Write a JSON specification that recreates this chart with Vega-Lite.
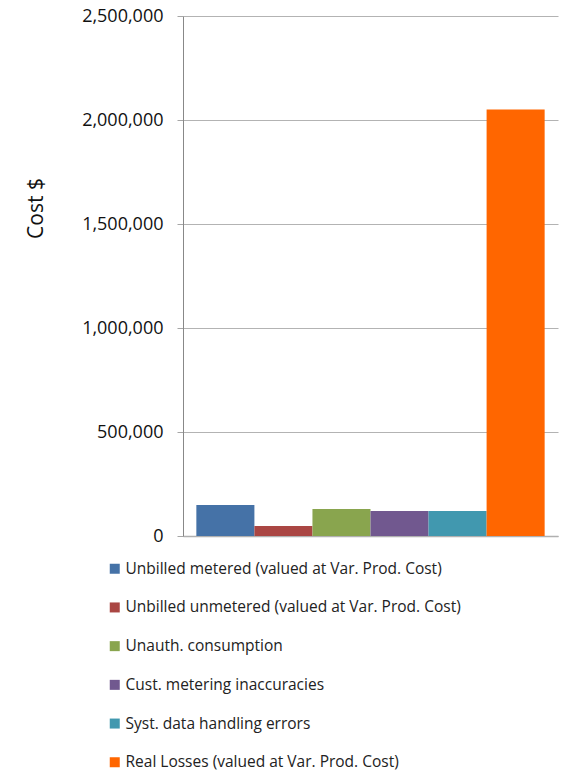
{
  "$schema": "https://vega.github.io/schema/vega-lite/v6.json",
  "autosize": {"type": "none"},
  "padding": {"left": 183, "top": 16, "right": 13, "bottom": 236},
  "width": 375,
  "height": 520,
  "background": "white",
  "data": {"values": [
    {"component": "Unbilled metered (valued at Var. Prod. Cost)", "cost": 149000},
    {"component": "Unbilled unmetered (valued at Var. Prod. Cost)", "cost": 48000},
    {"component": "Unauth. consumption", "cost": 130000},
    {"component": "Cust. metering inaccuracies", "cost": 120000},
    {"component": "Syst. data handling errors", "cost": 120000},
    {"component": "Real Losses (valued at Var. Prod. Cost)", "cost": 2050000}
  ]},
  "mark": {"type": "bar"},
  "encoding": {
    "x": {
      "field": "component", "type": "nominal", "sort": null,
      "scale": {"paddingInner": 0, "paddingOuter": 0.23},
      "axis": {"title": null, "labels": false, "ticks": false, "domain": true, "domainColor": "#b0b0b0", "domainWidth": 1.5, "grid": false}
    },
    "y": {
      "field": "cost", "type": "quantitative",
      "scale": {"domain": [0, 2500000], "nice": false},
      "axis": {
        "title": "Cost $", "values": [0, 500000, 1000000, 1500000, 2000000, 2500000],
        "format": ",d",
        "grid": true, "gridColor": "#b3b3b3", "gridWidth": 1,
        "domainColor": "#888888", "domainWidth": 1,
        "tickColor": "#a6a6a6", "tickSize": 6, "tickWidth": 1,
        "labelFont": "Open Sans", "labelFontSize": 18, "labelColor": "#111111", "labelPadding": 14,
        "titleFont": "Open Sans", "titleFontSize": 21, "titleFontWeight": "normal", "titleColor": "#111111",
        "titleAngle": -90, "titleX": -147, "titleY": 192, "titleAlign": "center", "titleBaseline": "middle"
      }
    },
    "color": {
      "field": "component", "type": "nominal",
      "scale": {
        "domain": [
          "Unbilled metered (valued at Var. Prod. Cost)",
          "Unbilled unmetered (valued at Var. Prod. Cost)",
          "Unauth. consumption",
          "Cust. metering inaccuracies",
          "Syst. data handling errors",
          "Real Losses (valued at Var. Prod. Cost)"
        ],
        "range": ["#4572a7", "#aa4643", "#89a54e", "#71588f", "#4198af", "#ff6600"]
      },
      "legend": {
        "title": null, "orient": "none", "legendX": -76, "legendY": 545,
        "symbolType": "square", "symbolSize": 100, "symbolStrokeWidth": 0,
        "labelFont": "Open Sans", "labelFontSize": 15.5, "labelColor": "#222222",
        "labelOffset": 3, "rowPadding": 21.7, "labelLimit": 500, "padding": 0
      }
    }
  },
  "config": {"view": {"stroke": null}}
}
